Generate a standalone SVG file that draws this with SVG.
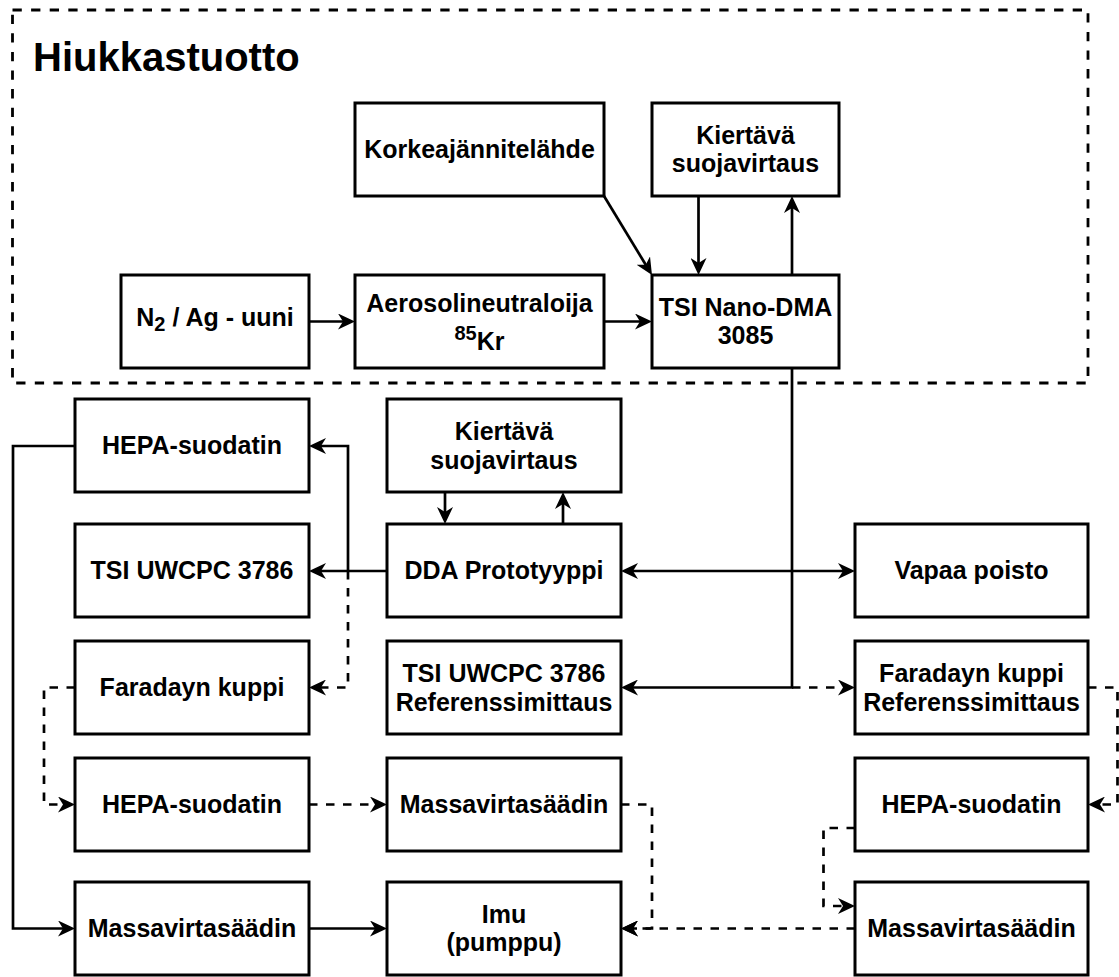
<svg xmlns="http://www.w3.org/2000/svg" width="1119" height="977" viewBox="0 0 1119 977">
<defs>
<style>
.box{fill:#fff;stroke:#000;stroke-width:3}
.t{font-family:"Liberation Sans",Arial,Helvetica,sans-serif;font-weight:bold;font-size:25px;text-anchor:middle;fill:#000}
.c{fill:none;stroke:#000;stroke-width:2.7}
.d{stroke-dasharray:8.5 8.5}
.frame{fill:none;stroke:#000;stroke-width:2.8;stroke-dasharray:9.3 9.3}
</style>
<marker id="a" viewBox="0 0 17 16" markerWidth="17" markerHeight="16" refX="7" refY="8" markerUnits="userSpaceOnUse" orient="auto-start-reverse">
<path d="M0,0 L17,8 L0,16 L5,8 Z" fill="#000"/>
</marker>
</defs>
<rect width="1119" height="977" fill="#fff"/>
<g id="group-hiukkastuotto">
<rect class="frame" x="12.5" y="10" width="1075.5" height="373"/>
<text x="33" y="71" style="font-family:'Liberation Sans',Arial,Helvetica,sans-serif;font-weight:bold;font-size:40px" fill="#000">Hiukkastuotto</text>
</g>
<g id="n-korkea"><rect class="box" x="355" y="103" width="249" height="93"/><text class="t" x="479.5" y="158">Korkeajännitelähde</text></g>
<g id="n-kiertava1"><rect class="box" x="652" y="103" width="187" height="93"/><text class="t" x="745.5" y="143.5">Kiertävä</text><text class="t" x="745.5" y="172">suojavirtaus</text></g>
<g id="n-n2"><rect class="box" x="121" y="275" width="188" height="93"/><text class="t" x="215" y="326">N<tspan font-size="20" dy="5">2</tspan><tspan dy="-5"> / Ag - uuni</tspan></text></g>
<g id="n-aerosol"><rect class="box" x="355" y="275" width="249" height="93"/><text class="t" x="479.5" y="312">Aerosolineutraloija</text><text class="t" x="479.5" y="340"><tspan font-size="20">85</tspan><tspan dy="10">Kr</tspan></text></g>
<g id="n-nanodma"><rect class="box" x="652" y="275" width="187" height="93"/><text class="t" x="745.5" y="315.5">TSI Nano-DMA</text><text class="t" x="745.5" y="344">3085</text></g>
<g id="n-hepa1"><rect class="box" x="75" y="399" width="234" height="93"/><text class="t" x="192" y="454">HEPA-suodatin</text></g>
<g id="n-kiertava2"><rect class="box" x="387" y="399" width="234" height="93"/><text class="t" x="504" y="440">Kiertävä</text><text class="t" x="504" y="468.5">suojavirtaus</text></g>
<g id="n-uwcpc"><rect class="box" x="75" y="524" width="234" height="93"/><text class="t" x="192" y="579">TSI UWCPC 3786</text></g>
<g id="n-dda"><rect class="box" x="387" y="524" width="234" height="93"/><text class="t" x="504" y="579">DDA Prototyyppi</text></g>
<g id="n-vapaa"><rect class="box" x="855" y="524" width="233" height="93"/><text class="t" x="971.5" y="579">Vapaa poisto</text></g>
<g id="n-faraday"><rect class="box" x="75" y="641" width="234" height="93"/><text class="t" x="192" y="696">Faradayn kuppi</text></g>
<g id="n-uwcpcref"><rect class="box" x="387" y="641" width="234" height="93"/><text class="t" x="504" y="682">TSI UWCPC 3786</text><text class="t" x="504" y="710.5">Referenssimittaus</text></g>
<g id="n-faradayref"><rect class="box" x="855" y="641" width="233" height="93"/><text class="t" x="971.5" y="682">Faradayn kuppi</text><text class="t" x="971.5" y="710.5">Referenssimittaus</text></g>
<g id="n-hepa2"><rect class="box" x="75" y="758" width="234" height="93"/><text class="t" x="192" y="813">HEPA-suodatin</text></g>
<g id="n-massa2"><rect class="box" x="387" y="758" width="234" height="93"/><text class="t" x="504" y="813">Massavirtasäädin</text></g>
<g id="n-hepa3"><rect class="box" x="855" y="758" width="233" height="93"/><text class="t" x="971.5" y="813">HEPA-suodatin</text></g>
<g id="n-massa1"><rect class="box" x="75" y="882" width="234" height="93"/><text class="t" x="192" y="937">Massavirtasäädin</text></g>
<g id="n-imu"><rect class="box" x="387" y="882" width="234" height="93"/><text class="t" x="504" y="922.5">Imu</text><text class="t" x="504" y="951">(pumppu)</text></g>
<g id="n-massa3"><rect class="box" x="855" y="882" width="233" height="93"/><text class="t" x="971.5" y="937">Massavirtasäädin</text></g>
<g id="connectors">
<path class="c" d="M309,321.5 H345" marker-end="url(#a)"/>
<path class="c" d="M604,321.5 H642" marker-end="url(#a)"/>
<path class="c" d="M604,196 L646.8,266.5" marker-end="url(#a)"/>
<path class="c" d="M698.5,196 V265" marker-end="url(#a)"/>
<path class="c" d="M792,275 V206" marker-end="url(#a)"/>
<path class="c" d="M792,368 V687.5 H631" marker-end="url(#a)"/>
<path class="c d" d="M792,687.5 H845" marker-end="url(#a)"/>
<path class="c" d="M387,571 H319" marker-end="url(#a)"/>
<path class="c" d="M348,571 V446 H319" marker-end="url(#a)"/>
<path class="c d" d="M348,571 V687.5 H319" marker-end="url(#a)"/>
<path class="c" d="M631,571 H845" marker-start="url(#a)" marker-end="url(#a)"/>
<path class="c" d="M445,492 V514" marker-end="url(#a)"/>
<path class="c" d="M563,524 V502" marker-end="url(#a)"/>
<path class="c" d="M75,446 H13 V928.5 H65" marker-end="url(#a)"/>
<path class="c d" d="M75,687.5 H44 V804.5 H65" marker-end="url(#a)"/>
<path class="c d" d="M309,804.5 H377" marker-end="url(#a)"/>
<path class="c d" d="M621,804.5 H652 V928.5 H631" marker-end="url(#a)"/>
<path class="c" d="M309,928.5 H377" marker-end="url(#a)"/>
<path class="c d" d="M855,928.5 H631" marker-end="url(#a)"/>
<path class="c d" d="M1088,687.5 H1117.5 V804.5 H1098" marker-end="url(#a)"/>
<path class="c d" d="M855,828 H823.5 V906 H845" marker-end="url(#a)"/>
</g>
</svg>
